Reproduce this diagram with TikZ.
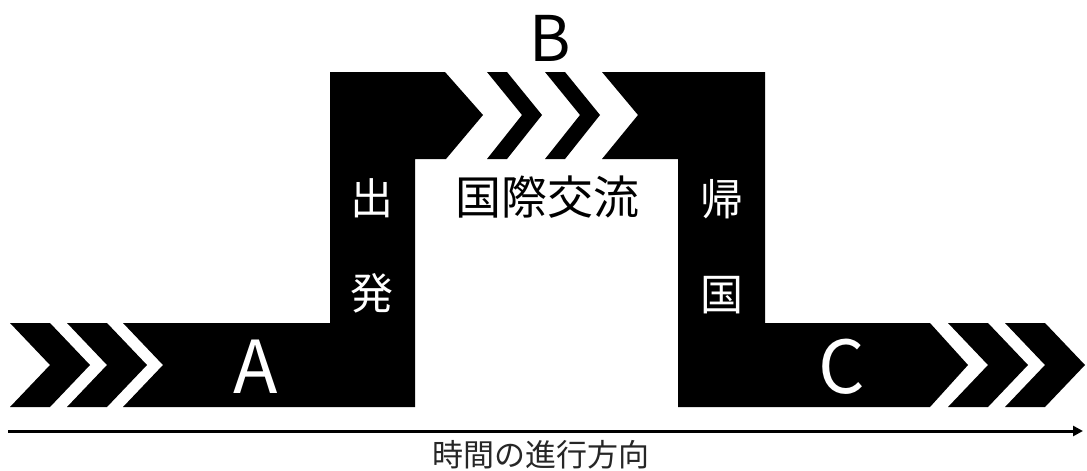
\documentclass[tikz,border=0pt]{standalone}
\usepackage{fontspec}
\setmainfont{Noto Sans CJK JP}
\newfontfamily\cjk{Noto Sans CJK JP}
\usetikzlibrary{arrows.meta}
\begin{document}
\begin{tikzpicture}[x=1pt,y=-1pt,
  band/.style={fill=black,draw=none},
  bigletter/.style={font=\fontsize{73}{73}\selectfont,inner sep=0pt},
  vlabel/.style={text=white,font=\cjk\fontsize{43}{43}\selectfont,inner sep=0pt},
  axislabel/.style={font=\cjk\fontsize{31}{31}\selectfont,inner sep=0pt,text=black!85}]
\useasboundingbox (0,0) rectangle (1087,471);
% bottom-left chevrons
\fill[band] (10,323) -- (50,323) -- (90,365) -- (50,407) -- (10,407) -- (50,365) -- cycle;
\fill[band] (67,323) -- (107,323) -- (147,365) -- (107,407) -- (67,407) -- (107,365) -- cycle;
% left body A + rising column + upper left block
\fill[band] (123,323) -- (330,323) -- (330,72) -- (445,72) -- (483,115) -- (446,159)
  -- (415,159) -- (415,407) -- (123,407) -- (163,365) -- cycle;
% upper chevrons
\fill[band] (487,72) -- (507,72) -- (542,115) -- (507,159) -- (487,159) -- (522,115) -- cycle;
\fill[band] (545,72) -- (565,72) -- (600,115) -- (565,159) -- (545,159) -- (580,115) -- cycle;
% right block + descending column + body C
\fill[band] (602,72) -- (765,72) -- (765,323) -- (930,323) -- (968,365) -- (930,407)
  -- (678,407) -- (678,159) -- (602,159) -- (638,115) -- cycle;
% bottom-right chevrons
\fill[band] (948,323) -- (988,323) -- (1028,365) -- (988,407) -- (948,407) -- (988,365) -- cycle;
\fill[band] (1005,323) -- (1045,323) -- (1085,365) -- (1045,407) -- (1005,407) -- (1045,365) -- cycle;
% labels
\node[bigletter,text=white] (A) at (256,367) {A};
\node[bigletter,text=black,font=\fontsize{63}{63}\selectfont] (B) at (550,38) {B};
\node[bigletter,text=white] (C) at (842,367) {C};
\node[vlabel] (de) at (372,198) {出};
\node[vlabel] (hatsu) at (372,293) {発};
\node[vlabel] (ki) at (722,199) {帰};
\node[vlabel] (koku) at (722,295) {国};
\node[font=\cjk\fontsize{46}{46}\selectfont,inner sep=0pt] (kokusai) at (547,197) {国際交流};
% time axis
\coordinate (t0) at (8,431);
\coordinate (t1) at (1083,431);
\draw[line width=3pt,-{Triangle[length=10pt,width=10pt]}] (t0) -- (t1);
\node[axislabel] (time) at (541,455) {時間の進行方向};
\end{tikzpicture}
\end{document}
